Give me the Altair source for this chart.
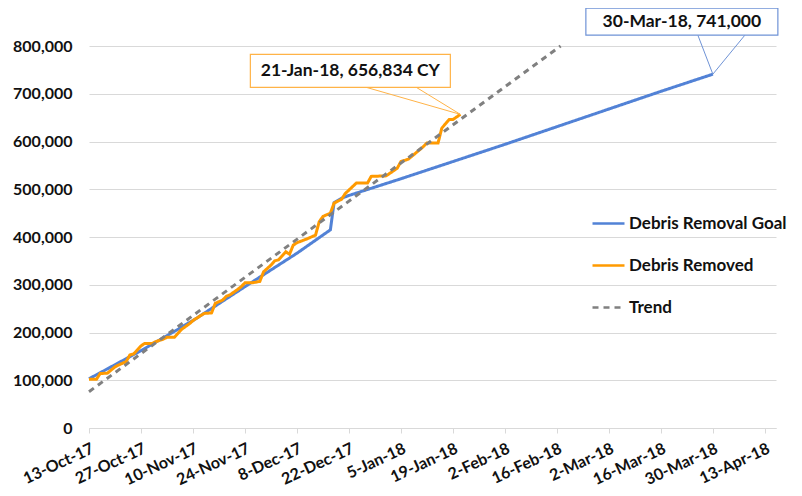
import altair as alt
import pandas as pd

# ---------------- data ----------------
series_names = ["Debris Removal Goal", "Debris Removed", "Trend"]
series_colors = ["#5282D6", "#FF9A00", "#808080"]

goal_dates = ["2017-10-13", "2017-10-27", "2017-11-10", "2017-11-24", "2017-12-08",
              "2017-12-17", "2017-12-18", "2017-12-20", "2017-12-22", "2018-01-05",
              "2018-01-19", "2018-02-02", "2018-02-16", "2018-03-02", "2018-03-16",
              "2018-03-30"]
goal_values = [103000, 162000, 225000, 296000, 366000,
               415000, 472000, 481000, 487000, 522000,
               558000, 594000, 631000, 668000, 705000,
               741000]

removed_dates = ["2017-10-13", "2017-10-15", "2017-10-16", "2017-10-18", "2017-10-20",
                 "2017-10-21", "2017-10-23", "2017-10-24", "2017-10-25", "2017-10-27",
                 "2017-10-28", "2017-10-30", "2017-10-31", "2017-11-02", "2017-11-03",
                 "2017-11-05", "2017-11-07", "2017-11-09", "2017-11-10", "2017-11-12",
                 "2017-11-13", "2017-11-15", "2017-11-16", "2017-11-18", "2017-11-19",
                 "2017-11-20", "2017-11-22", "2017-11-23", "2017-11-24", "2017-11-26",
                 "2017-11-28", "2017-11-29", "2017-12-01", "2017-12-02", "2017-12-03",
                 "2017-12-05", "2017-12-06", "2017-12-07", "2017-12-08", "2017-12-11",
                 "2017-12-13", "2017-12-14", "2017-12-15", "2017-12-17", "2017-12-18",
                 "2017-12-20", "2017-12-21", "2017-12-24", "2017-12-27", "2017-12-28",
                 "2018-01-01", "2018-01-04", "2018-01-05", "2018-01-07", "2018-01-11",
                 "2018-01-12", "2018-01-15", "2018-01-16", "2018-01-18", "2018-01-19",
                 "2018-01-21"]
removed_values = [102000, 102000, 114000, 115000, 128000,
                  132000, 139000, 153000, 155000, 172000,
                  177000, 177000, 181000, 186000, 190000,
                  190000, 207000, 218000, 225000, 235000,
                  240000, 241000, 261000, 268000, 276000,
                  279000, 290000, 296000, 304000, 304000,
                  307000, 327000, 341000, 350000, 352000,
                  369000, 364000, 383000, 388000, 397000,
                  404000, 432000, 443000, 450000, 471000,
                  479000, 491000, 513000, 513000, 527000,
                  528000, 544000, 558000, 563000, 589000,
                  597000, 597000, 628000, 646000, 646000,
                  656834]

trend_dates = ["2017-10-13", "2018-02-17"]
trend_values = [76000, 800000]

tick_dates = ["2017-10-13", "2017-10-27", "2017-11-10", "2017-11-24", "2017-12-08",
              "2017-12-22", "2018-01-05", "2018-01-19", "2018-02-02", "2018-02-16",
              "2018-03-02", "2018-03-16", "2018-03-30", "2018-04-13"]

callout_removed_date = ["2018-01-21"]
callout_removed_value = [656834]
callout_removed_text = ["21-Jan-18, 656,834 CY"]

callout_goal_date = ["2018-03-30"]
callout_goal_value = [741000]
callout_goal_text = ["30-Mar-18, 741,000"]

# ---------------- tables ----------------
def loc(d):
    return d + "T00:00:00"

rows = []
for d, v in zip(goal_dates, goal_values):
    rows.append({"series": series_names[0], "date": loc(d), "value": v})
for d, v in zip(removed_dates, removed_values):
    rows.append({"series": series_names[1], "date": loc(d), "value": v})
for d, v in zip(trend_dates, trend_values):
    rows.append({"series": series_names[2], "date": loc(d), "value": v})
df = pd.DataFrame(rows)

ann1 = pd.DataFrame({"date": [loc(d) for d in callout_removed_date],
                     "value": callout_removed_value, "label": callout_removed_text})
ann2 = pd.DataFrame({"date": [loc(d) for d in callout_goal_date],
                     "value": callout_goal_value, "label": callout_goal_text})


def dt(s):
    y, m, d = s.split("-")
    return alt.DateTime(year=int(y), month=int(m), date=int(d))


FONT = "Lato"
TXT = "#111111"
GRID = "#D9D9D9"

x_enc = alt.X("date:T",
              scale=alt.Scale(domain=[dt("2017-10-13"), dt("2018-04-16")]),
              axis=alt.Axis(title=None, values=[dt(t) for t in tick_dates],
                            format="%-d-%b-%y", labelAngle=-25, labelAlign="right",
                            labelBaseline="top", labelPadding=7, labelFont=FONT,
                            labelFontSize=16, labelFontWeight="bold", labelColor=TXT,
                            grid=False, domainColor=GRID, tickColor=GRID, tickSize=5,
                            labelOverlap=False))
y_enc = alt.Y("value:Q",
              scale=alt.Scale(domain=[0, 800000]),
              axis=alt.Axis(title=None, values=list(range(0, 800001, 100000)),
                            format=",d", domain=False, ticks=False, labelPadding=17,
                            labelFont=FONT, labelFontSize=16, labelFontWeight="bold",
                            labelColor=TXT, gridColor=GRID, gridWidth=1))

leg = alt.Legend(title=None, orient="none", legendX=502, legendY=160,
                 symbolType="stroke", symbolSize=1024, symbolStrokeWidth=2.5,
                 labelFont=FONT, labelFontSize=17, labelFontWeight="bold",
                 labelColor=TXT, rowPadding=16, labelOffset=3, padding=0,
                 labelLimit=400)

lines = alt.Chart(df).mark_line(strokeWidth=3).encode(
    x=x_enc,
    y=y_enc,
    color=alt.Color("series:N", scale=alt.Scale(domain=series_names, range=series_colors),
                    legend=leg),
    strokeDash=alt.StrokeDash("series:N",
                              scale=alt.Scale(domain=series_names,
                                              range=[[1, 0], [1, 0], [6, 5]]),
                              legend=leg),
)


def callout(data, color, box, p1, p2, txt):
    enc = dict(x=alt.X("date:T"), y=alt.Y("value:Q"),
               x2=alt.X2("date"), y2=alt.Y2("value"))
    r1 = alt.Chart(data).mark_rule(color=color, strokeWidth=1,
                                   x2Offset=p1[0], y2Offset=p1[1]).encode(**enc)
    r2 = alt.Chart(data).mark_rule(color=color, strokeWidth=1,
                                   x2Offset=p2[0], y2Offset=p2[1]).encode(**enc)
    rect = alt.Chart(data).mark_rect(fill="white", stroke=color, strokeWidth=1.2,
                                     xOffset=box[0], x2Offset=box[1],
                                     yOffset=box[2], y2Offset=box[3]).encode(**enc)
    text = alt.Chart(data).mark_text(font=FONT, fontSize=17.5, fontWeight="bold",
                                     color=TXT, align="center", baseline="middle",
                                     dx=txt[0], dy=txt[1]).encode(
        x="date:T", y="value:Q", text="label:N")
    return [r1, r2, rect, text]


layers = [lines]
layers += callout(ann1, "#FFB347", (-210, -10, -60, -27), (-94, -27), (-44, -27), (-110, -43))
layers += callout(ann2, "#6F93D6", (-127, 65, -66, -39), (-15, -39), (32, -39), (-31, -52))

chart = alt.layer(*layers).properties(
    width=687, height=382,
    autosize=alt.AutoSizeParams(type="none"),
    padding={"left": 81, "top": 38, "right": 18, "bottom": 60},
    background="white",
).configure_view(stroke=None)

chart.save("out.html", embed_options={"renderer": "svg", "actions": False})
